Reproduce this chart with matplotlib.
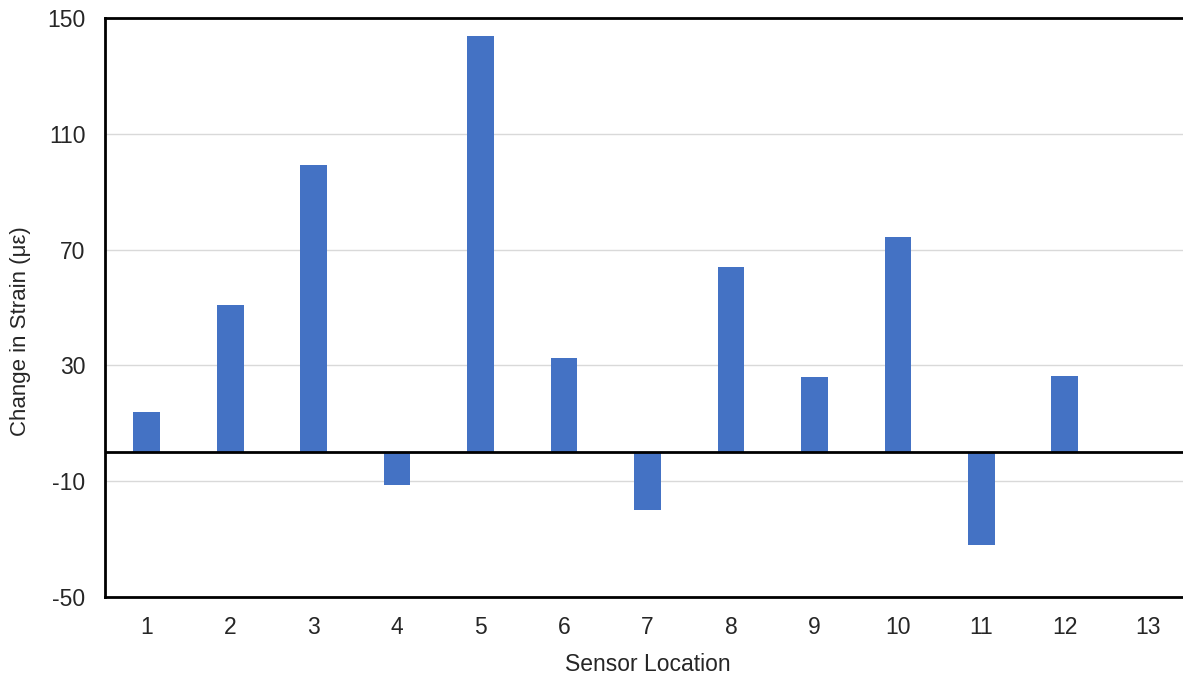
import numpy as np
import matplotlib.pyplot as plt

# sensor positions and strain changes
sensors = [str(i) for i in range(1, 14)]
strain = [13.8, 50.9, 99.2, -11.4, 143.9, 32.5, -20.1, 64.0, 26.0, 74.3, -31.9, 26.3, np.nan]
yticks = [-50, -10, 30, 70, 110, 150]

plt.rcParams['font.family'] = ['Liberation Sans', 'DejaVu Sans']
plt.rcParams['axes.unicode_minus'] = False

fig = plt.figure(figsize=(11.83, 6.76), dpi=100)
# right edge of plot area runs past the image, like the original
ax = fig.add_axes([105 / 1183, 1 - 597 / 676, 1085 / 1183, 579 / 676])

x = np.arange(1, len(sensors) + 1)
ax.bar(x, strain, width=0.32, color='#4472C4', zorder=3)
ax.axhline(0, color='black', lw=2, zorder=4)

ax.set_xlim(0.5, 13.5)
ax.set_ylim(-50, 150)
ax.set_xticks(x)
ax.set_xticklabels(sensors)
ax.set_yticks(yticks)
ax.yaxis.grid(True, color='#d9d9d9', lw=1, zorder=0)
ax.tick_params(length=0, labelsize=16.5, pad=14, labelcolor='#262626')

for s in ['left', 'bottom', 'top']:
    ax.spines[s].set_linewidth(2)
    ax.spines[s].set_color('black')
ax.spines['right'].set_visible(False)

ax.set_xlabel('Sensor Location', fontsize=16.5, labelpad=10, color='#262626')
ax.set_ylabel('Change in Strain (με)', fontsize=16, color='#262626')
ax.yaxis.set_label_coords(-0.068, 0.46)

fig.savefig('out.png', dpi=100)
